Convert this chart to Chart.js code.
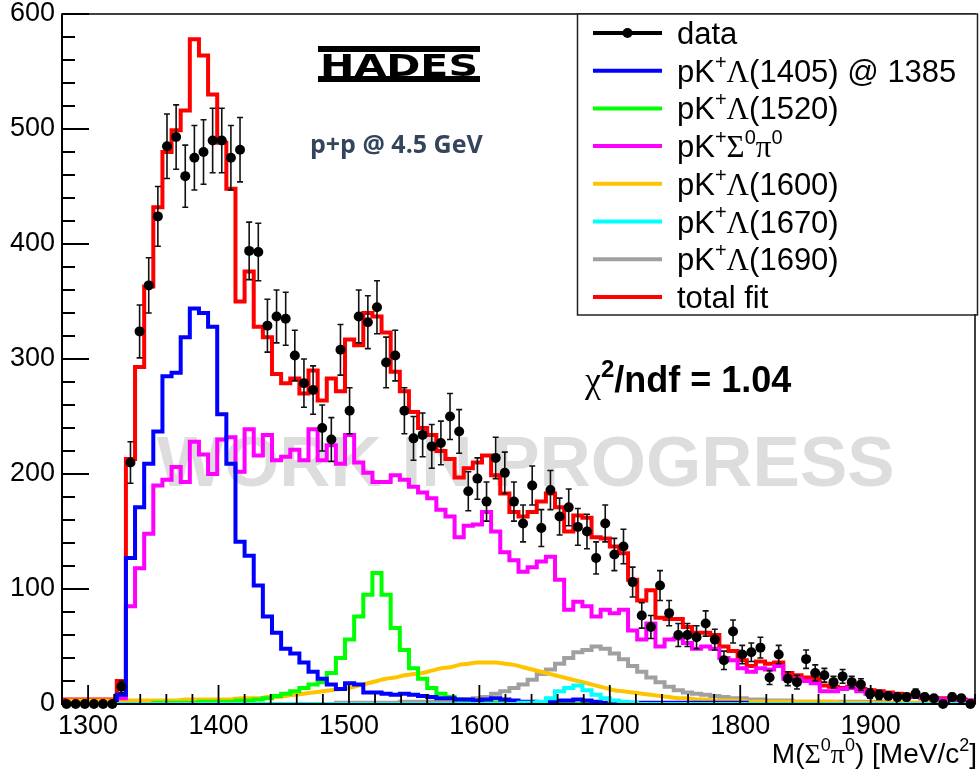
<!DOCTYPE html>
<html>
<head>
<meta charset="utf-8">
<script src="https://cdn.jsdelivr.net/npm/chart.js@4.4.0/dist/chart.umd.min.js"></script>
<style>
  html, body { margin: 0; padding: 0; background: #fff; }
  #wrap { width: 980px; height: 770px; }
</style>
</head>
<body>
<div id="wrap"><canvas id="hades-chart" width="980" height="770"></canvas></div>
<script>
// binning of the M(Sigma0 pi0) histogram: 100 bins of 7 MeV
const binStart = 1280;
const binWidth = 7;
const xTicks = [1300, 1400, 1500, 1600, 1700, 1800, 1900];
const yTicks = [0, 100, 200, 300, 400, 500, 600];

// measured counts and their errors
const dataCounts = [
  0, 0, 0, 0, 0, 0, 15, 210, 324, 364,
  424, 485, 493, 459, 475, 480, 490, 490, 475, 482,
  394, 393, 329, 337, 335, 303, 279, 273, 240, 230,
  308, 255, 337, 332, 345, 297, 303, 255, 231, 234,
  224, 227, 250, 237, 185, 196, 176, 214, 201, 176,
  157, 190, 153, 186, 163, 171, 154, 150, 127, 157,
  130, 137, 106, 77, 67, 103, 79, 60, 60, 58,
  70, 56, 38, 63, 43, 45, 49, 23, 43, 22,
  19, 39, 27, 25, 19, 24, 19, 17, 9, 8,
  7, 6, 6, 9, 6, 5, 0, 6, 5, 0
];
const dataErrors = [
  1, 1, 1, 1, 1, 1, 5, 18, 23, 24,
  26, 28, 28, 27, 28, 28, 28, 28, 28, 28,
  25, 25, 23, 23, 23, 22, 21, 21, 20, 19,
  22, 20, 23, 23, 23, 22, 22, 20, 19, 19,
  19, 19, 20, 19, 17, 18, 17, 18, 18, 17,
  16, 17, 16, 17, 16, 16, 16, 15, 14, 16,
  14, 15, 13, 11, 10, 13, 11, 10, 10, 10,
  11, 9, 8, 10, 8, 8, 9, 6, 8, 6,
  6, 8, 7, 6, 5, 6, 5, 5, 4, 4,
  3, 3, 3, 4, 3, 3, 0, 3, 3, 0
];

// fit components
const totalFit = [
  4, 4, 4, 4, 4, 4, 20, 213, 293, 363,
  432, 480, 499, 516, 578, 564, 530, 488, 448, 350,
  376, 328, 319, 287, 279, 283, 270, 290, 264, 283,
  272, 317, 312, 340, 337, 323, 289, 272, 254, 240,
  234, 220, 213, 197, 205, 210, 216, 199, 183, 167,
  163, 167, 176, 183, 171, 150, 164, 162, 145, 144,
  137, 131, 108, 90, 99, 75, 74, 74, 67, 62,
  62, 60, 50, 46, 38, 33, 37, 35, 36, 27,
  25, 23, 22, 16, 15, 14, 15, 13, 12, 11,
  10, 9, 8, 7, 6, 5, 5, 4, 4, 3
];
const lambda1405 = [
  0, 0, 0, 0, 0, 0, 8, 127, 171, 209,
  237, 285, 288, 319, 344, 340, 328, 252, 209, 141,
  129, 103, 76, 62, 48, 44, 36, 28, 22, 17,
  13, 18, 17, 10, 10, 9, 8, 9, 8, 7,
  6, 5, 5, 4, 4, 3, 4, 5, 4, 3,
  2, 2, 1, 2, 3, 3, 4, 3, 2, 1,
  1, 1, 1, 1, 1, 1, 1, 1, 1, 1,
  1, 1, 1, 1, 1, 0, 0, 0, 0, 0,
  0, 0, 0, 0, 0, 0, 0, 0, 0, 0,
  0, 0, 0, 0, 0, 0, 0, 0, 0, 0
];
const lambda1520 = [
  0, 0, 0, 0, 0, 0, 0, 0, 0, 0,
  1, 1, 1, 1, 1, 2, 2, 2, 2, 3,
  3, 4, 5, 7, 9, 11, 14, 17, 19, 27,
  40, 56, 76, 95, 114, 95, 66, 47, 31, 22,
  14, 9, 6, 4, 3, 2, 2, 1, 1, 1,
  0, 0, 0, 0, 0, 0, 0, 0, 0, 0,
  0, 0, 0, 0, 0, 0, 0, 0, 0, 0,
  0, 0, 0, 0, 0, 0, 0, 0, 0, 0,
  0, 0, 0, 0, 0, 0, 0, 0, 0, 0,
  0, 0, 0, 0, 0, 0, 0, 0, 0, 0
];
const sigmaPi = [
  0, 0, 0, 0, 0, 0, 5, 85, 118, 148,
  190, 195, 206, 193, 228, 217, 200, 230, 232, 202,
  239, 216, 234, 212, 215, 221, 212, 239, 212, 225,
  209, 234, 210, 201, 193, 193, 199, 195, 189, 184,
  179, 169, 163, 145, 155, 156, 167, 150, 132, 125,
  115, 119, 124, 128, 108, 82, 89, 85, 76, 82,
  79, 82, 64, 56, 70, 50, 56, 57, 53, 48,
  50, 48, 40, 38, 31, 28, 31, 30, 33, 22,
  22, 20, 18, 11, 11, 13, 14, 11, 9, 9,
  8, 7, 6, 6, 5, 5, 4, 4, 3, 3
];
const lambda1600 = [
  3, 3, 3, 3, 3, 3, 3, 3, 3, 3,
  3, 3, 3, 4, 4, 4, 4, 4, 4, 5,
  5, 5, 6, 6, 7, 8, 9, 10, 11, 12,
  13, 14, 16, 18, 20, 22, 23, 25, 26, 27,
  29, 31, 32, 34, 35, 36, 36, 36, 35, 34,
  32, 30, 28, 26, 24, 22, 20, 18, 16, 14,
  12, 11, 10, 9, 8, 7, 6, 5, 5, 4,
  4, 3, 3, 3, 3, 2, 2, 2, 2, 2,
  2, 2, 2, 2, 2, 1, 1, 1, 1, 1,
  1, 1, 1, 1, 1, 1, 1, 1, 1, 1
];
const lambda1670 = [
  0, 0, 0, 0, 0, 0, 0, 0, 0, 0,
  0, 0, 0, 0, 0, 0, 0, 0, 0, 0,
  0, 0, 0, 0, 0, 0, 0, 0, 0, 0,
  0, 0, 0, 0, 0, 0, 0, 0, 0, 0,
  0, 0, 0, 0, 0, 0, 0, 0, 0, 0,
  1, 1, 2, 5, 11, 14, 16, 12, 8, 5,
  3, 2, 1, 0, 0, 0, 0, 0, 0, 0,
  0, 0, 0, 0, 0, 0, 0, 0, 0, 0,
  0, 0, 0, 0, 0, 0, 0, 0, 0, 0,
  0, 0, 0, 0, 0, 0, 0, 0, 0, 0
];
const lambda1690 = [
  0, 0, 0, 0, 0, 0, 0, 0, 0, 0,
  0, 0, 0, 0, 0, 0, 0, 0, 0, 0,
  0, 0, 0, 0, 0, 0, 0, 0, 0, 0,
  1, 1, 1, 1, 1, 1, 1, 2, 2, 2,
  2, 3, 3, 4, 4, 5, 6, 9, 11, 14,
  17, 21, 26, 30, 35, 40, 45, 47, 50, 48,
  44, 39, 33, 28, 23, 19, 15, 12, 10, 9,
  8, 7, 6, 5, 5, 4, 4, 3, 3, 3,
  2, 2, 2, 2, 2, 2, 2, 2, 2, 2,
  1, 1, 1, 1, 1, 1, 1, 1, 1, 1
];

const FONT = "'Liberation Sans', Arial, sans-serif";
const GREEK_FONT = "'Liberation Serif', 'Times New Roman', serif";

// histogram as left bin edges + closing edge, drawn with stepped:'before'
function histPoints(values) {
  const pts = values.map((v, i) => ({ x: binStart + i * binWidth, y: v }));
  pts.push({ x: binStart + values.length * binWidth, y: values[values.length - 1] });
  return pts;
}
function centerPoints(values) {
  return values.map((v, i) => ({ x: binStart + (i + 0.5) * binWidth, y: v }));
}

// tiny ROOT-latex like text: ^{..} superscripts and #Greek letters
const greek = { Lambda: "Λ", Sigma: "Σ", pi: "π", chi: "χ" };
function parseLatex(str) {
  const segs = [];
  let buf = "";
  const flush = (sup) => { if (buf) segs.push({ t: buf, sup: sup, g: false }); buf = ""; };
  const walk = (s, sup) => {
    let j = 0;
    while (j < s.length) {
      if (s[j] === "#") {
        flush(sup);
        const m = s.slice(j + 1).match(/^[A-Za-z]+/);
        segs.push({ t: greek[m[0]] || m[0], sup: sup, g: true });
        j += 1 + m[0].length;
      } else if (s[j] === "^" && s[j + 1] === "{") {
        flush(sup);
        const end = s.indexOf("}", j);
        walk(s.slice(j + 2, end), true);
        j = end + 1;
      } else {
        buf += s[j];
        j++;
      }
    }
    flush(sup);
  };
  walk(str, false);
  return segs;
}
function segFont(seg, size, bold) {
  const s = seg.sup ? Math.round(size * 0.66) : size;
  return (seg.g ? "" : (bold ? "bold " : "")) + s + "px " + (seg.g ? GREEK_FONT : FONT);
}
function drawLatex(ctx, str, x, y, size, opts) {
  opts = opts || {};
  const segs = parseLatex(str);
  ctx.save();
  ctx.textBaseline = "alphabetic";
  ctx.textAlign = "left";
  ctx.fillStyle = opts.color || "#000";
  let w = 0;
  segs.forEach((s) => { ctx.font = segFont(s, size, opts.bold); w += ctx.measureText(s.t).width; });
  let cx = opts.align === "right" ? x - w : x;
  segs.forEach((s) => {
    ctx.font = segFont(s, size, opts.bold);
    ctx.fillText(s.t, cx, s.sup ? y - size * 0.42 : y);
    cx += ctx.measureText(s.t).width;
  });
  ctx.restore();
}

const rootStyle = {
  id: "rootStyle",
  beforeDatasetsDraw(chart) {
    const ctx = chart.ctx;
    ctx.save();
    ctx.fillStyle = "#dddddd";
    ctx.font = "bold 71px " + FONT;
    ctx.textBaseline = "alphabetic";
    ctx.fillText("WORK IN PROGRESS", 157, 486, 746);
    ctx.restore();
  },
  beforeDatasetDraw(chart, args) {
    const ds = chart.data.datasets[args.index];
    if (!ds.errors) return;
    const ctx = chart.ctx, xs = chart.scales.x, ys = chart.scales.y;
    ctx.save();
    ctx.strokeStyle = "#111";
    ctx.lineWidth = 1.6;
    ds.data.forEach((p, i) => {
      const e = ds.errors[i];
      if (!e) return;
      const px = xs.getPixelForValue(p.x);
      const y1 = ys.getPixelForValue(p.y + e), y2 = ys.getPixelForValue(Math.max(p.y - e, 0));
      ctx.beginPath();
      ctx.moveTo(px, y1); ctx.lineTo(px, y2);
      ctx.moveTo(px - 3, y1); ctx.lineTo(px + 3, y1);
      ctx.moveTo(px - 3, y2); ctx.lineTo(px + 3, y2);
      ctx.stroke();
    });
    ctx.restore();
  },
  afterDraw(chart) {
    const ctx = chart.ctx, a = chart.chartArea, xs = chart.scales.x, ys = chart.scales.y;
    ctx.save();
    // frame
    ctx.strokeStyle = "#000";
    ctx.lineWidth = 1.5;
    ctx.strokeRect(a.left, a.top, a.right - a.left, a.bottom - a.top);
    ctx.lineWidth = 2;
    ctx.beginPath();
    ctx.moveTo(a.left, a.top); ctx.lineTo(a.left, a.bottom); ctx.lineTo(a.right, a.bottom);
    ctx.stroke();
    // ROOT style ticks, 5 divisions per major
    ctx.lineWidth = 1.8;
    ctx.beginPath();
    for (let v = ys.min; v <= ys.max; v += 20) {
      const py = ys.getPixelForValue(v);
      const len = yTicks.includes(v) ? 27 : 13;
      ctx.moveTo(a.left, py); ctx.lineTo(a.left + len, py);
    }
    for (let v = xs.min; v <= xs.max; v += 20) {
      const px = xs.getPixelForValue(v);
      const len = xTicks.includes(v) ? 19 : 10;
      ctx.moveTo(px, a.bottom); ctx.lineTo(px, a.bottom - len);
    }
    ctx.stroke();

    // legend box
    ctx.fillStyle = "#fff";
    ctx.fillRect(577, a.top, 400, 300);
    ctx.lineWidth = 1.5;
    ctx.strokeStyle = "#222";
    ctx.strokeRect(577.5, a.top, 400, 301);
    const order = chart.data.datasets
      .map((d, i) => ({ d, i }))
      .sort((p, q) => p.d.legendRank - q.d.legendRank);
    order.forEach(({ d }, k) => {
      const cy = 33 + k * 37.7;
      ctx.strokeStyle = d.legendColor;
      ctx.lineWidth = 4;
      ctx.beginPath();
      ctx.moveTo(593, cy); ctx.lineTo(662, cy);
      ctx.stroke();
      if (d.errors) {
        ctx.fillStyle = "#000";
        ctx.beginPath();
        ctx.arc(627.5, cy, 5, 0, Math.PI * 2);
        ctx.fill();
      }
      drawLatex(ctx, d.label, 677, cy + 11, 31);
    });

    // texts
    drawLatex(ctx, "#chi^{2}/ndf = 1.04", 585, 392, 36, { bold: true });
    drawLatex(ctx, "M(#Sigma^{0}#pi^{0}) [MeV/c^{2}]", 977, 763, 28, { align: "right" });

    ctx.fillStyle = "#34455b";
    ctx.font = "bold 25px 'Open Sans', " + FONT;
    ctx.textBaseline = "alphabetic";
    ctx.fillText("p+p @ 4.5 GeV", 310, 153);

    // HADES logo, stretched to the bar width
    ctx.fillStyle = "#000";
    ctx.fillRect(318, 46, 162, 6);
    ctx.fillRect(318, 76, 162, 6);
    ctx.font = "900 30px 'DejaVu Sans', " + FONT;
    const lw = ctx.measureText("HADES").width;
    ctx.translate(320, 76);
    ctx.scale(158 / lw, 1);
    ctx.fillText("HADES", 0, 0);
    ctx.restore();
  },
};

function histDataset(label, values, color, rank, order) {
  return {
    label: label,
    data: histPoints(values),
    borderColor: color,
    legendColor: color,
    legendRank: rank,
    borderWidth: 4,
    pointRadius: 0,
    stepped: "before",
    fill: false,
    order: order,
  };
}

const ctx = document.getElementById("hades-chart");
new Chart(ctx, {
  type: "line",
  data: {
    datasets: [
      {
        type: "scatter",
        label: "data",
        data: centerPoints(dataCounts),
        errors: dataErrors,
        legendColor: "#000",
        legendRank: 0,
        pointRadius: 5,
        pointBackgroundColor: "#000",
        pointBorderColor: "#000",
        pointBorderWidth: 0,
        showLine: false,
        clip: false,
        order: 0,
      },
      histDataset("pK^{+}#Lambda(1405) @ 1385", lambda1405, "#0000ff", 1, 2),
      histDataset("pK^{+}#Lambda(1520)", lambda1520, "#00ff00", 2, 3),
      histDataset("pK^{+}#Sigma^{0}#pi^{0}", sigmaPi, "#ff00ff", 3, 4),
      {
        label: "pK^{+}#Lambda(1600)",
        data: centerPoints(lambda1600),
        borderColor: "#ffc400",
        legendColor: "#ffc400",
        legendRank: 4,
        borderWidth: 4,
        pointRadius: 0,
        cubicInterpolationMode: "monotone",
        fill: false,
        order: 5,
      },
      histDataset("pK^{+}#Lambda(1670)", lambda1670, "#00ffff", 5, 1),
      histDataset("pK^{+}#Lambda(1690)", lambda1690, "#a0a0a0", 6, 6),
      histDataset("total fit", totalFit, "#ff0000", 7, 7),
    ],
  },
  options: {
    responsive: false,
    animation: false,
    devicePixelRatio: 1,
    layout: { padding: { top: 14, right: 3, left: 0, bottom: 0 } },
    plugins: {
      legend: { display: false },
      tooltip: { enabled: false },
    },
    scales: {
      x: {
        type: "linear",
        min: binStart,
        max: binStart + dataCounts.length * binWidth,
        grid: { display: false, drawTicks: false },
        border: { display: false },
        afterBuildTicks: (s) => { s.ticks = xTicks.map((v) => ({ value: v })); },
        afterFit: (s) => { s.height = 66; },
        ticks: {
          autoSkip: false,
          maxRotation: 0,
          padding: 9,
          color: "#000",
          font: { family: FONT, size: 27, lineHeight: 1 },
          callback: (v) => String(v),
        },
      },
      y: {
        min: 0,
        max: 600,
        grid: { display: false, drawTicks: false },
        border: { display: false },
        afterBuildTicks: (s) => { s.ticks = yTicks.map((v) => ({ value: v })); },
        afterFit: (s) => { s.width = 62; },
        ticks: {
          padding: 7,
          color: "#000",
          font: { family: FONT, size: 27, lineHeight: 0.5 },
          callback: (v) => String(v),
        },
      },
    },
  },
  plugins: [rootStyle],
});
</script>
</body>
</html>
